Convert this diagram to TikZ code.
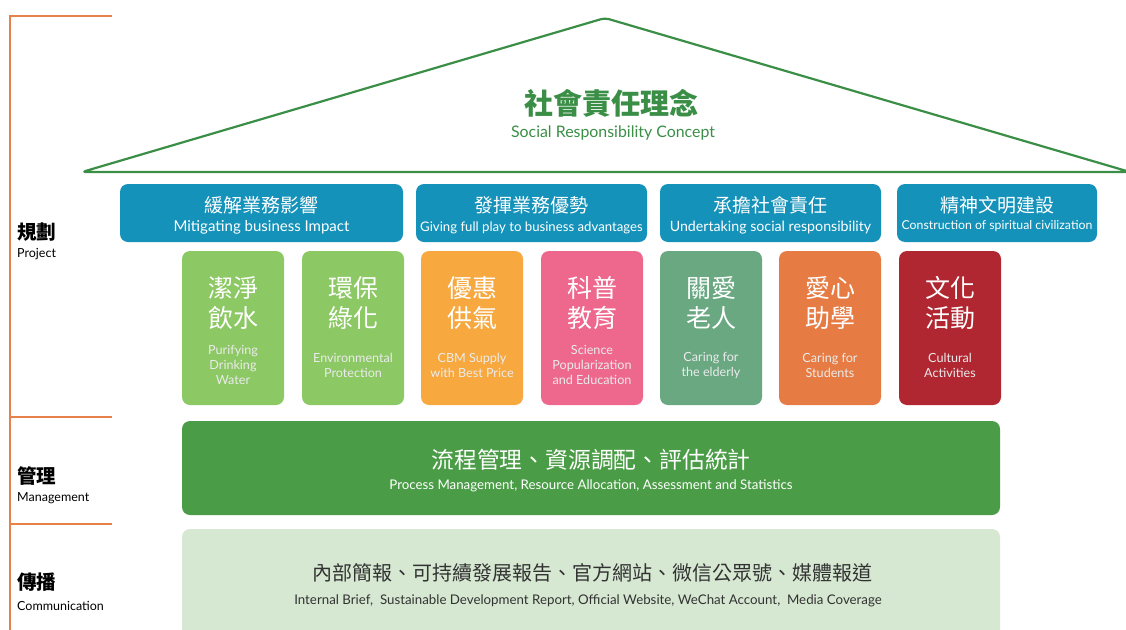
\documentclass[tikz,border=0pt]{standalone}
\usepackage{fontspec}
\setmainfont{Lato}
\newfontfamily\cjk{Noto Sans CJK TC}
\newcommand\fsz[2]{\fontsize{#1}{#2}\selectfont}

\definecolor{bandorange}{RGB}{232,128,74}
\definecolor{roofgreen}{RGB}{58,142,70}
\definecolor{topicblue}{RGB}{21,146,185}
\definecolor{leafgreen}{RGB}{140,200,100}
\definecolor{sunorange}{RGB}{247,169,64}
\definecolor{rosepink}{RGB}{238,104,141}
\definecolor{sagegreen}{RGB}{106,168,130}
\definecolor{rustorange}{RGB}{230,124,67}
\definecolor{winered}{RGB}{176,38,49}
\definecolor{mgmtgreen}{RGB}{74,157,70}
\definecolor{commgreen}{RGB}{214,232,210}
\definecolor{commtext}{RGB}{50,50,50}

\tikzset{
  band/.style={draw=bandorange, line width=1.5pt},
  sidezh/.style={anchor=west, inner sep=0pt, font=\cjk\bfseries\fsz{19.5}{21}},
  sideen/.style={anchor=west, inner sep=0pt, font=\fsz{12.5}{14}},
  topic/.style={fill=topicblue, rounded corners=8pt, minimum height=58pt, inner sep=0pt},
  topiczh/.style={text=white, inner sep=0pt, font=\cjk\fsz{19}{21}},
  topicen/.style={text=white, inner sep=0pt, font=\fsz{14.2}{16}},
  card/.style={rounded corners=8pt, minimum width=102pt, minimum height=154pt, inner sep=0pt},
  cardzh/.style={text=white, align=center, inner sep=0pt, font=\cjk\fsz{25}{30}},
  carden/.style={text=white!92!black, align=center, inner sep=0pt, font=\fsz{12.6}{15}},
  plan/.style={rounded corners=8pt, minimum width=818pt, inner sep=0pt}
}

\begin{document}
\begin{tikzpicture}[x=1pt,y=-1pt]
  \useasboundingbox (0,0) rectangle (1126,629);

  % left bands
  \draw[band] (112,16) -- (10,16) -- (10,640);
  \draw[band] (10,417) -- (112,417);
  \draw[band] (10,524) -- (112,524);
  \node[sidezh] (projzh) at (17,232) {規劃};
  \node[sideen] (projen) at (17,254) {Project};
  \node[sidezh] (mgmtzh) at (17,476) {管理};
  \node[sideen] (mgmten) at (17,498) {Management};
  \node[sidezh] (commzh) at (17,582) {傳播};
  \node[sideen] (commen) at (17,606) {Communication};

  % roof
  \draw[roofgreen, line width=2.2pt, line join=round, rounded corners=4pt]
    (82,172) -- (605,18) -- (1130,172) -- cycle;
  \node[text=roofgreen, inner sep=0pt, font=\cjk\bfseries\fsz{29}{32}] (concept) at (611,103) {社會責任理念};
  \node[text=roofgreen, inner sep=0pt, font=\fsz{15.9}{18}] (concepten) at (613,133) {Social Responsibility Concept};

  % topics
  \node[topic, minimum width=283pt] (topic1) at (261.5,213) {};
  \node[topiczh] (topic1zh) at (261.5,205) {緩解業務影響};
  \node[topicen, font=\fsz{15}{17}] (topic1en) at (261.5,227) {Mitigating business Impact};
  \node[topic, minimum width=231pt] (topic2) at (531.5,213) {};
  \node[topiczh] (topic2zh) at (531.5,205) {發揮業務優勢};
  \node[topicen, font=\fsz{13.2}{15}] (topic2en) at (531.5,228) {Giving full play to business advantages};
  \node[topic, minimum width=221pt] (topic3) at (770.5,213) {};
  \node[topiczh] (topic3zh) at (770.5,205) {承擔社會責任};
  \node[topicen] (topic3en) at (770.5,228) {Undertaking social responsibility};
  \node[topic, minimum width=200pt] (topic4) at (997,213) {};
  \node[topiczh] (topic4zh) at (997,205) {精神文明建設};
  \node[topicen, font=\fsz{12.3}{14}] (topic4en) at (997,226) {Construction of spiritual civilization};

  % cards
  \foreach \x/\col/\zha/\zhb/\en [count=\i] in {
      233/leafgreen/潔淨/飲水/{Purifying\\Drinking\\Water},
      353/leafgreen/環保/綠化/{Environmental\\Protection},
      472/sunorange/優惠/供氣/{CBM Supply\\with Best Price},
      592/rosepink/科普/教育/{Science\\Popularization\\and Education},
      711/sagegreen/關愛/老人/{Caring for\\the elderly},
      830/rustorange/愛心/助學/{Caring for\\Students},
      950/winered/文化/活動/{Cultural\\Activities}} {
    \node[card, fill=\col] (card\i) at (\x,328) {};
    \node[cardzh] (card\i zh) at (\x,303) {\zha\\\zhb};
    \node[carden] (card\i en) at (\x,365) {\en};
  }

  % management
  \node[plan, fill=mgmtgreen, minimum height=94pt] (mgmt) at (591,468) {};
  \node[text=white, inner sep=0pt, font=\cjk\fsz{22.8}{24}] (mgmtzhbar) at (591,460) {流程管理、資源調配、評估統計};
  \node[text=white, inner sep=0pt, font=\fsz{13.3}{15}] (mgmtenbar) at (591,486) {Process Management, Resource Allocation, Assessment and Statistics};

  % communication
  \node[plan, fill=commgreen, minimum height=112pt] (comm) at (591,585) {};
  \node[text=commtext, inner sep=0pt, font=\cjk\fsz{20}{22}] (commzhbar) at (592,573) {內部簡報、可持續發展報告、官方網站、微信公眾號、媒體報道};
  \node[text=commtext, inner sep=0pt, font=\fsz{13.3}{15}] (commenbar) at (588,601) {Internal Brief,\ \ Sustainable Development Report, Official Website, WeChat Account,\ \ Media Coverage};
\end{tikzpicture}
\end{document}
